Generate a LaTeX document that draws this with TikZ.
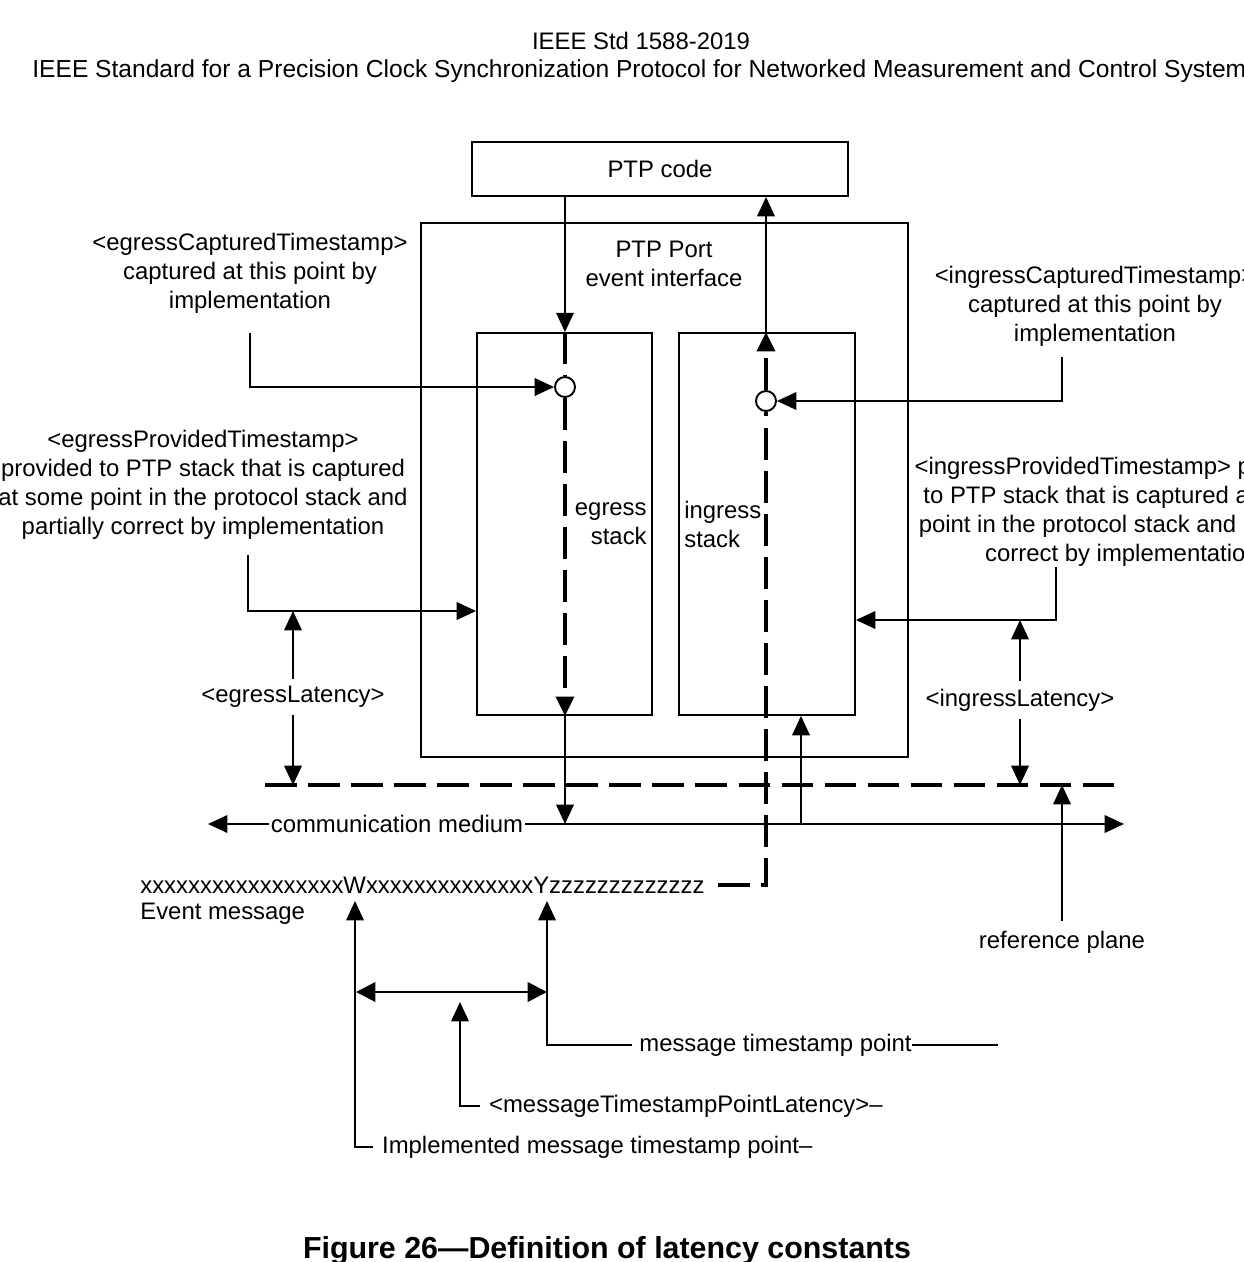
\documentclass[tikz,border=0pt]{standalone}
\usepackage{fontspec}
\setmainfont{Liberation Sans}
\usetikzlibrary{arrows.meta}

\begin{document}
\begin{tikzpicture}[x=0.02cm,y=-0.02cm]
    \tikzset{% This is the style settings for nodes and lines
    txt/.style={inner sep=0pt,align=center,font=\fontsize{13.6}{16.5}\selectfont},
    box/.style={draw,line width=1.1pt,inner sep=0pt},
    tp/.style={circle,draw,line width=1.1pt,fill=white,inner sep=0pt,minimum size=0.4cm},
    conn/.style={line width=0.9pt},
    arr/.style={line width=0.9pt,-{Triangle[length=11pt,width=10pt]}},
    thickdash/.style={line width=2.5pt,dash pattern=on 18pt off 6.5pt},
    }
    \useasboundingbox (0,0) rectangle (1244,1262);
    \clip (0,0) rectangle (1244,1262);

    % Nodes
    \node[txt] (std) at (641,41) {IEEE Std 1588-2019};
    \node[txt,anchor=west,font=\fontsize{14}{16.5}\selectfont] (title) at (32,71) {IEEE Standard for a Precision Clock Synchronization Protocol for Networked Measurement and Control Systems};

    \node[box,txt,minimum width=7.52cm,minimum height=1.08cm] (code) at (660,169) {PTP code};
    \node[box,minimum width=9.74cm,minimum height=10.68cm] (port) at (664.5,490) {};
    \node[txt] (porttxt) at (664,264) {PTP Port\\event interface};
    \node[box,minimum width=3.5cm,minimum height=7.64cm] (egs) at (564.5,524) {};
    \node[box,minimum width=3.52cm,minimum height=7.64cm] (ings) at (767,524) {};
    \node[txt,align=right,anchor=east] (egtxt) at (647,524) {egress\\stack};
    \node[txt,align=left,anchor=west] (intxt) at (684,524) {ingress\\stack};

    \node[txt] (egcap) at (250,273) {<egressCapturedTimestamp>\\captured at this point by\\implementation};
    \node[txt] (incap) at (1095,306) {<ingressCapturedTimestamp>\\captured at this point by\\implementation};
    \node[txt] (egprov) at (203,485) {<egressProvidedTimestamp>\\provided to PTP stack that is captured\\at some point in the protocol stack and\\partially correct by implementation};
    \node[txt] (inprov) at (1122,512) {<ingressProvidedTimestamp> provided\\to PTP stack that is captured at some\\point in the protocol stack and partially\\correct by implementation};
    \node[txt,inner ysep=4pt] (eglat) at (293,697) {<egressLatency>};
    \node[txt,inner ysep=4pt] (inlat) at (1020,700) {<ingressLatency>};

    \coordinate (egprovpt) at (248,611);
    \coordinate (inprovpt) at (1056,620);
    \coordinate (planeL) at (265,785);
    \coordinate (planeR) at (1118,785);
    \coordinate (medL) at (208,824);
    \coordinate (medR) at (1124,824);
    \coordinate (inmed) at (801,824);
    \coordinate (msgend) at (718,885);

    \node[txt,anchor=west] (msg) at (140,885) {xxxxxxxxxxxxxxxxxWxxxxxxxxxxxxxxYzzzzzzzzzzzzz};
    \node[txt,anchor=west] (evt) at (140,914) {Event message};
    \node[txt] (refp) at (1062,942) {reference plane};

    \coordinate (wpt) at (355,901);
    \coordinate (ypt) at (547,901);
    \coordinate (spanL) at (356,992);
    \coordinate (spanR) at (547,992);
    \coordinate (mtlpt) at (460,1002);
    \coordinate (mtpend) at (998,1045);
    \node[txt,anchor=west] (mtp) at (639,1045) {message timestamp point};
    \node[txt,anchor=west,inner xsep=5pt] (mtl) at (480,1106) {<messageTimestampPointLatency>–};
    \node[txt,anchor=west,inner xsep=5pt] (impl) at (373,1147) {Implemented message timestamp point–};

    \node[font=\bfseries\fontsize{17.3}{20}\selectfont,inner sep=0pt,anchor=base] (cap) at (607,1258) {Figure 26—Definition of latency constants};

    %Edges
    \draw[thickdash] (planeL) -- (planeR);
    \draw[conn,{Triangle[length=11pt,width=10pt]}-{Triangle[length=11pt,width=10pt]}] (medL) -- (medR);
    \node[txt,fill=white,inner xsep=1pt,inner ysep=2pt] (med) at (397,824) {communication medium};

    % egress path
    \node[tp] (egc) at (565,387) {};
    \draw[arr] (egc |- code.south) -- (egc |- egs.north);
    \draw[thickdash] (egc |- egs.north) -- (egc.north);
    \draw[thickdash,-{Triangle[length=11pt,width=10pt]}] (egc.south) -- (egc |- egs.south);
    \draw[arr] (egc |- egs.south) -- (egc |- medL);

    % ingress path
    \node[tp] (inc) at (766,401) {};
    \draw[thickdash] (msgend) -| (inc.south);
    \draw[thickdash,-{Triangle[length=11pt,width=10pt]}] (inc.north) -- (inc |- ings.north);
    \draw[arr] (inc |- ings.north) -- (inc |- code.south);
    \draw[arr] (inmed) -- (inmed |- ings.south);

    % timestamps and latencies
    \draw[arr] (egcap.south) ++(0,20) |- (egc.west);
    \draw[arr] (incap.south) ++(-33,11) |- (inc.east);
    \draw[arr] (egprovpt |- egprov.south) ++(0,15) -- (egprovpt) -- (egprovpt -| egs.west);
    \draw[arr] (inprovpt |- inprov.south) -- (inprovpt) -- (inprovpt -| ings.east);
    \draw[arr] (eglat.north) -- (eglat.north |- egprovpt);
    \draw[arr] (eglat.south) -- (eglat.south |- planeL);
    \draw[arr] (inlat.north) -- (inlat.north |- inprovpt);
    \draw[arr] (inlat.south) -- (inlat.south |- planeR);
    \draw[arr] (refp.north) ++(0,-10) -- (refp.north |- planeR);

    % message timestamp points
    \draw[arr] (impl.west) -| (wpt);
    \draw[arr] (mtp.west) ++(-7,0) -| (ypt);
    \draw[conn] (mtp.east) -- (mtpend);
    \draw[arr] (mtl.west) -| (mtlpt);
    \draw[line width=1.6pt,{Triangle[length=11pt,width=11pt]}-{Triangle[length=11pt,width=11pt]}] (spanL) -- (spanR);
\end{tikzpicture}
\end{document}
